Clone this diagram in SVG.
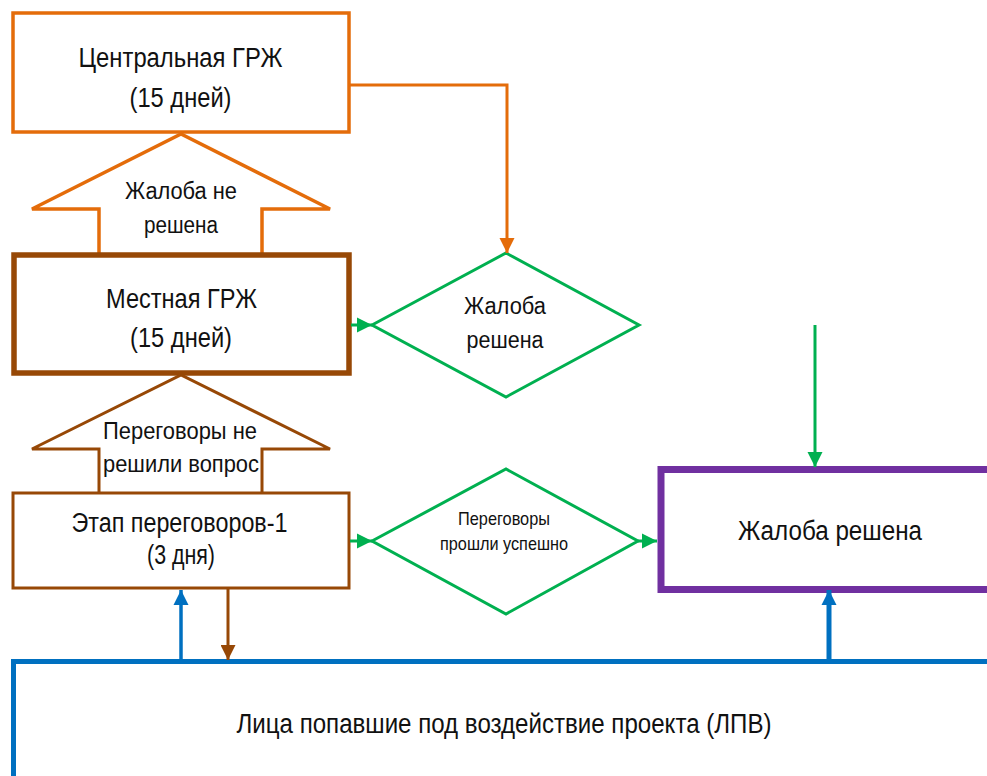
<svg xmlns="http://www.w3.org/2000/svg" width="987" height="776" viewBox="0 0 987 776">
<style>
text{font-family:"Liberation Sans",Arial,sans-serif;fill:#111;text-anchor:middle}
.t28{font-size:27px}
.t24{font-size:23.5px}
.t19{font-size:18.5px}
.or{fill:#fff;stroke:#E46C0A;stroke-width:3.5}
.br{fill:#fff;stroke:#974806;stroke-width:3}
.gr{fill:#fff;stroke:#00B050;stroke-width:3}
.ln{fill:none}
</style>
<defs>
<marker id="ah-or" viewBox="0 0 10 10" refX="10" refY="5" markerWidth="15" markerHeight="16" markerUnits="userSpaceOnUse" orient="auto"><path d="M0,0L10,5L0,10z" fill="#E46C0A"/></marker>
<marker id="ah-gr" viewBox="0 0 10 10" refX="10" refY="5" markerWidth="15" markerHeight="16" markerUnits="userSpaceOnUse" orient="auto"><path d="M0,0L10,5L0,10z" fill="#00B050"/></marker>
<marker id="ah-bl" viewBox="0 0 10 10" refX="10" refY="5" markerWidth="15" markerHeight="16" markerUnits="userSpaceOnUse" orient="auto"><path d="M0,0L10,5L0,10z" fill="#0070C0"/></marker>
<marker id="ah-br" viewBox="0 0 10 10" refX="10" refY="5" markerWidth="15" markerHeight="15" markerUnits="userSpaceOnUse" orient="auto"><path d="M0,0L10,5L0,10z" fill="#974806"/></marker>
</defs>
<rect width="987" height="776" fill="#fff"/>

<g id="arrow-not-resolved">
<path class="or" d="M99,253L99,209L32,209L181,134L330,209L262,209L262,253"/>
<text class="t24" x="181" y="199" textLength="112" lengthAdjust="spacingAndGlyphs">Жалоба не</text>
<text class="t24" x="181" y="233" textLength="74" lengthAdjust="spacingAndGlyphs">решена</text>
</g>

<g id="arrow-negotiation-failed">
<path class="br" d="M99,493L99,449L32,449L181,375L330,449L262,449L262,493"/>
<text class="t24" x="180" y="439" textLength="154" lengthAdjust="spacingAndGlyphs">Переговоры не</text>
<text class="t24" x="181" y="472" textLength="156" lengthAdjust="spacingAndGlyphs">решили вопрос</text>
</g>

<g id="central-grm">
<rect class="or" x="13" y="13" width="336" height="119"/>
<text class="t28" x="180.5" y="67" textLength="204" lengthAdjust="spacingAndGlyphs">Центральная ГРЖ</text>
<text class="t28" x="180.5" y="107" textLength="102" lengthAdjust="spacingAndGlyphs">(15 дней)</text>
</g>

<g id="local-grm">
<rect class="br" x="14" y="255" width="335" height="118" style="stroke-width:5.5"/>
<text class="t28" x="181.5" y="308" textLength="151" lengthAdjust="spacingAndGlyphs">Местная ГРЖ</text>
<text class="t28" x="181" y="347" textLength="102" lengthAdjust="spacingAndGlyphs">(15 дней)</text>
</g>

<g id="negotiation-stage">
<rect class="br" x="13" y="493" width="336" height="95"/>
<text class="t28" x="179.5" y="532" textLength="216" lengthAdjust="spacingAndGlyphs">Этап переговоров-1</text>
<text class="t28" x="181" y="564" textLength="68" lengthAdjust="spacingAndGlyphs">(3 дня)</text>
</g>

<g id="decision-resolved">
<path class="gr" d="M372,325L506,253L639,325L506,397Z"/>
<text class="t24" x="505" y="314" textLength="82" lengthAdjust="spacingAndGlyphs">Жалоба</text>
<text class="t24" x="505" y="348" textLength="77" lengthAdjust="spacingAndGlyphs">решена</text>
</g>

<g id="decision-negotiation">
<path class="gr" d="M372,541L506,469L638,541L506,614Z"/>
<text class="t19" x="504" y="525" textLength="92" lengthAdjust="spacingAndGlyphs">Переговоры</text>
<text class="t19" x="504" y="550" textLength="128" lengthAdjust="spacingAndGlyphs">прошли успешно</text>
</g>

<g id="resolved">
<rect x="661" y="469.5" width="400" height="120" fill="#fff" stroke="#7030A0" stroke-width="7"/>
<text class="t28" x="830" y="540" textLength="184" lengthAdjust="spacingAndGlyphs">Жалоба решена</text>
</g>

<g id="pap">
<rect x="13.5" y="661.5" width="1000" height="200" fill="#fff" stroke="#0070C0" stroke-width="5"/>
<text class="t28" x="504" y="732.5" textLength="535" lengthAdjust="spacingAndGlyphs">Лица попавшие под воздействие проекта (ЛПВ)</text>
</g>

<g id="connectors" class="ln">
<polyline points="349,85 507,85 507,253" fill="none" stroke="#E46C0A" stroke-width="3" marker-end="url(#ah-or)"/>
<line x1="351" y1="325" x2="372" y2="325" stroke="#00B050" stroke-width="3" marker-end="url(#ah-gr)"/>
<line x1="350" y1="541" x2="372" y2="541" stroke="#00B050" stroke-width="3" marker-end="url(#ah-gr)"/>
<line x1="638" y1="541" x2="657" y2="541" stroke="#00B050" stroke-width="3" marker-end="url(#ah-gr)"/>
<line x1="815" y1="325" x2="815" y2="467" stroke="#00B050" stroke-width="3" marker-end="url(#ah-gr)"/>
<line x1="181" y1="660" x2="181" y2="590" stroke="#0070C0" stroke-width="3.5" marker-end="url(#ah-bl)"/>
<line x1="228" y1="589" x2="228" y2="660" stroke="#974806" stroke-width="3" marker-end="url(#ah-br)"/>
<line x1="829" y1="660" x2="829" y2="590" stroke="#0070C0" stroke-width="5" marker-end="url(#ah-bl)"/>
</g>
</svg>
